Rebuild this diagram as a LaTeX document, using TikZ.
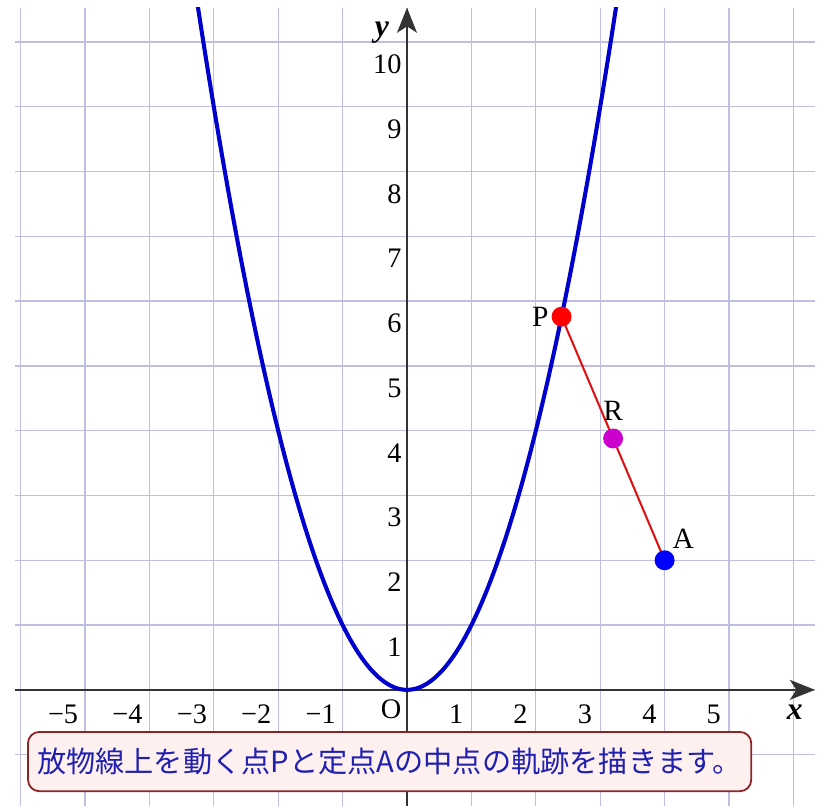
\documentclass[tikz,border=0pt]{standalone}
\usepackage{fontspec}
\setmainfont{Liberation Serif}
\newfontfamily\jpfont{Noto Sans CJK JP}
\usetikzlibrary{arrows.meta,calc}
\definecolor{gridL}{HTML}{BEBEE0}
\definecolor{axisD}{HTML}{333333}
\definecolor{parabB}{HTML}{0000CC}
\definecolor{segR}{HTML}{E01010}
\definecolor{ptR}{HTML}{FF0000}
\definecolor{ptM}{HTML}{CC00CC}
\definecolor{ptB}{HTML}{0000FF}
\definecolor{msgR}{HTML}{8B2525}
\definecolor{msgF}{HTML}{FFF0F0}
\definecolor{msgT}{HTML}{2020B0}

\begin{document}
\begin{tikzpicture}[x=1cm, y=1.006cm,
      font=\fontsize{12.5}{15}\selectfont,
      gridline/.style={draw=gridL, line width=0.6pt},
      axis/.style={draw=axisD, line width=0.8pt,
                   -{Stealth[length=0.39cm, width=0.31cm, inset=0.1cm]}},
      numx/.style={anchor=north east, inner sep=0pt},
      numy/.style={anchor=north east, inner sep=0pt},
      curve/.style={draw=parabB, line width=1.8pt},
      seg/.style={draw=segR, line width=0.9pt},
      dot/.style={circle, inner sep=0pt, minimum size=0.31cm},
      ptlbl/.style={font=\fontsize{13}{15}\selectfont, inner sep=1pt},
      msg/.style={draw=msgR, fill=msgF, line width=0.8pt, rounded corners=5pt,
                  inner xsep=1pt, minimum width=11.23cm, minimum height=0.92cm,
                  text=msgT, font=\jpfont\fontsize{12.9}{15}\selectfont}
    ]
    \useasboundingbox (-6.32,-1.79) rectangle (6.444,10.648);

    % grid
    \foreach \i in {-6,...,6}
      \draw[gridline] (\i,-1.79) -- (\i,10.53);
    \foreach \j in {-1,...,10}
      \draw[gridline] (-6.087,\j) -- (6.335,\j);

    % axes
    \draw[axis] (-6.087,0) -- (6.335,0);
    \draw[axis] (0,-1.79) -- (0,10.53);
    \node[font=\bfseries\itshape\fontsize{14}{16}\selectfont] (xname) at (6.02,-0.35) {x};
    \node[font=\bfseries\itshape\fontsize{14}{16}\selectfont] (yname) at (-0.39,10.15) {y};
    \node[numx] (orig) at (-0.08,-0.14) {O};
    \foreach \n in {1,...,5} {
      \node[numx] (xp\n) at ($(\n,0)+(-0.12,-0.23)$) {\n};
      \node[numx] (xm\n) at ($(-\n,0)+(-0.1,-0.23)$) {−\n};
    }
    \foreach \n in {1,...,10}
      \node[numy] (yp\n) at ($(0,\n)+(-0.08,-0.19)$) {\n};

    % parabola y = x^2
    \begin{scope}
      \clip (-6.087,-1.79) rectangle (6.335,10.53);
      \draw[curve] plot[domain=-3.3:3.3, samples=120, smooth] (\x,{\x*\x});
    \end{scope}

    % moving point, fixed point, midpoint
    \coordinate (Pc) at (2.4,5.76);
    \coordinate (Ac) at (4,2);
    \draw[seg] (Pc) -- (Ac);
    \node[dot, fill=ptR, label={[ptlbl]left:P}] (P) at (Pc) {};
    \node[dot, fill=ptB, label={[ptlbl]60:A}] (A) at (Ac) {};
    \node[dot, fill=ptM, label={[ptlbl, label distance=2pt]above:R}] (R) at ($(Pc)!0.5!(Ac)$) {};

    % message
    \node[msg] (note) at (-0.27,-1.107) {放物線上を動く点Pと定点Aの中点の軌跡を描きます。};
  \end{tikzpicture}
\end{document}
